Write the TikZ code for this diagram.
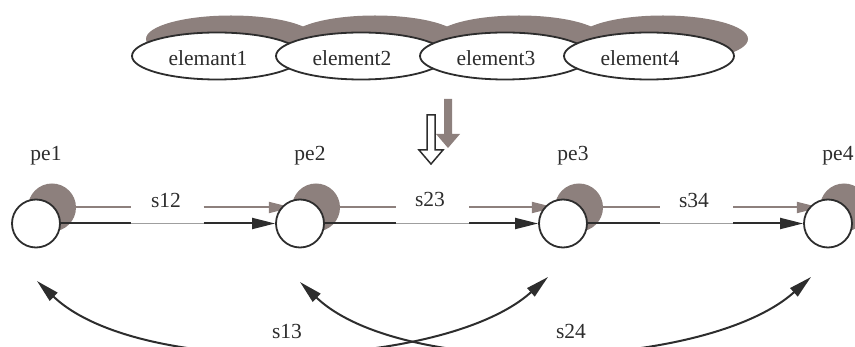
\documentclass[tikz,border=0pt]{standalone}
\usepackage{fontspec}
\setmainfont{Liberation Serif}
\usetikzlibrary{shapes.geometric,arrows.meta}
\definecolor{shadowgrey}{RGB}{141,128,125}
\definecolor{ink}{RGB}{45,45,45}

\begin{document}
\begin{tikzpicture}[x=1pt,y=-1pt,
  font=\fontsize{21.5}{25}\selectfont, text=ink,
  elem/.style={ellipse, draw=ink, line width=1.8pt, fill=white,
    minimum width=170pt, minimum height=47pt, inner sep=0pt},
  elemshade/.style={ellipse, fill=shadowgrey,
    minimum width=170pt, minimum height=47pt, inner sep=0pt},
  pe/.style={circle, draw=ink, line width=1.8pt, fill=white,
    minimum size=48pt, inner sep=0pt},
  peshade/.style={circle, fill=shadowgrey, minimum size=48pt, inner sep=0pt},
  link/.style={draw=ink, line width=2pt},
  linkshade/.style={draw=shadowgrey, line width=2pt},
  thinlink/.style={draw=gray!75, line width=0.8pt},
  headed/.style={-{Triangle[length=23pt,width=11pt]}},
  twoheaded/.style={{Triangle[length=23pt,width=11pt]}-{Triangle[length=23pt,width=11pt]}},
  lbl/.style={inner sep=0pt},
  elabel/.style={label={[xshift=-9pt,yshift=-2.5pt]center:#1}},
  pelabel/.style={label={[xshift=10pt,yshift=68pt]center:#1}}
]
\useasboundingbox (0,0) rectangle (855,347);
\clip (0,0) rectangle (855,347);

% ---------- drop shadows ----------
\begin{scope}[shift={(14,-17)}]
  \node[elemshade] (se1) at (217,56) {};
  \node[elemshade] (se2) at (361,56) {};
  \node[elemshade] (se3) at (505,56) {};
  \node[elemshade] (se4) at (649,56) {};
\end{scope}

\begin{scope}[shift={(17,-16)}]
  \fill[shadowgrey] (427,115) -- (435,115) -- (435,150) -- (443,150) -- (431,164)
    -- (419,150) -- (427,150) -- cycle;
\end{scope}

\begin{scope}[shift={(16,-16)}]
  \node[peshade] (sp1) at (36,223.5) {};
  \node[peshade] (sp2) at (300,223.5) {};
  \node[peshade] (sp3) at (563,223.5) {};
  \node[peshade] (sp4) at (828,223.5) {};
  % the label gaps stay where the labels are
  \coordinate (sg12a) at (114.5,223.5);
  \coordinate (sg12b) at (187.5,223.5);
  \coordinate (sg23a) at (380,223.5);
  \coordinate (sg23b) at (453,223.5);
  \coordinate (sg34a) at (644,223.5);
  \coordinate (sg34b) at (717,223.5);
  \draw[linkshade] (sp1) -- (sg12a);
  \draw[linkshade, headed] (sg12b) -- (sp2);
  \draw[linkshade] (sp2) -- (sg23a);
  \draw[linkshade, headed] (sg23b) -- (sp3);
  \draw[linkshade] (sp3) -- (sg34a);
  \draw[linkshade, headed] (sg34b) -- (sp4);
\end{scope}

% ---------- elements ----------
\node[elem, elabel=elemant1] (e1) at (217,56) {};
\node[elem, elabel=element2] (e2) at (361,56) {};
\node[elem, elabel=element3] (e3) at (505,56) {};
\node[elem, elabel=element4] (e4) at (649,56) {};

% hollow arrow between the two rows
\draw[draw=ink, line width=1.5pt, fill=white, line join=miter]
  (427,115) -- (435,115) -- (435,150) -- (443,150) -- (431,164)
  -- (419,150) -- (427,150) -- cycle;

% ---------- processing elements ----------
\node[pe, pelabel=pe1] (pe1) at (36,223.5) {};
\node[pe, pelabel=pe2] (pe2) at (300,223.5) {};
\node[pe, pelabel=pe3] (pe3) at (563,223.5) {};
\node[pe, pelabel=pe4] (pe4) at (828,223.5) {};

\coordinate (g12a) at (130.5,223.5);
\coordinate (g12b) at (203.5,223.5);
\coordinate (g23a) at (396,223.5);
\coordinate (g23b) at (469,223.5);
\coordinate (g34a) at (660,223.5);
\coordinate (g34b) at (733,223.5);

\draw[link] (pe1) -- (g12a);
\draw[thinlink] (g12a) -- (g12b);
\draw[link, headed] (g12b) -- (pe2);
\node[lbl] (s12) at (166,200) {s12};

\draw[link] (pe2) -- (g23a);
\draw[thinlink] (g23a) -- (g23b);
\draw[link, headed] (g23b) -- (pe3);
\node[lbl] (s23) at (430,199.5) {s23};

\draw[link] (pe3) -- (g34a);
\draw[thinlink] (g34a) -- (g34b);
\draw[link, headed] (g34b) -- (pe4);
\node[lbl] (s34) at (694,200) {s34};

% ---------- long links below ----------
\coordinate (a1) at (37,281);
\coordinate (a2) at (300,282);
\coordinate (a3) at (548,277);
\coordinate (a4) at (811,277);

\draw[link, twoheaded] (a1) .. controls (140.5,379) and (444.5,370) .. (a3);
\draw[link, twoheaded] (a2) .. controls (403.5,380) and (707.5,370) .. (a4);
\node[lbl] (s13) at (287,331.5) {s13};
\node[lbl] (s24) at (571,331.5) {s24};
\end{tikzpicture}
\end{document}
